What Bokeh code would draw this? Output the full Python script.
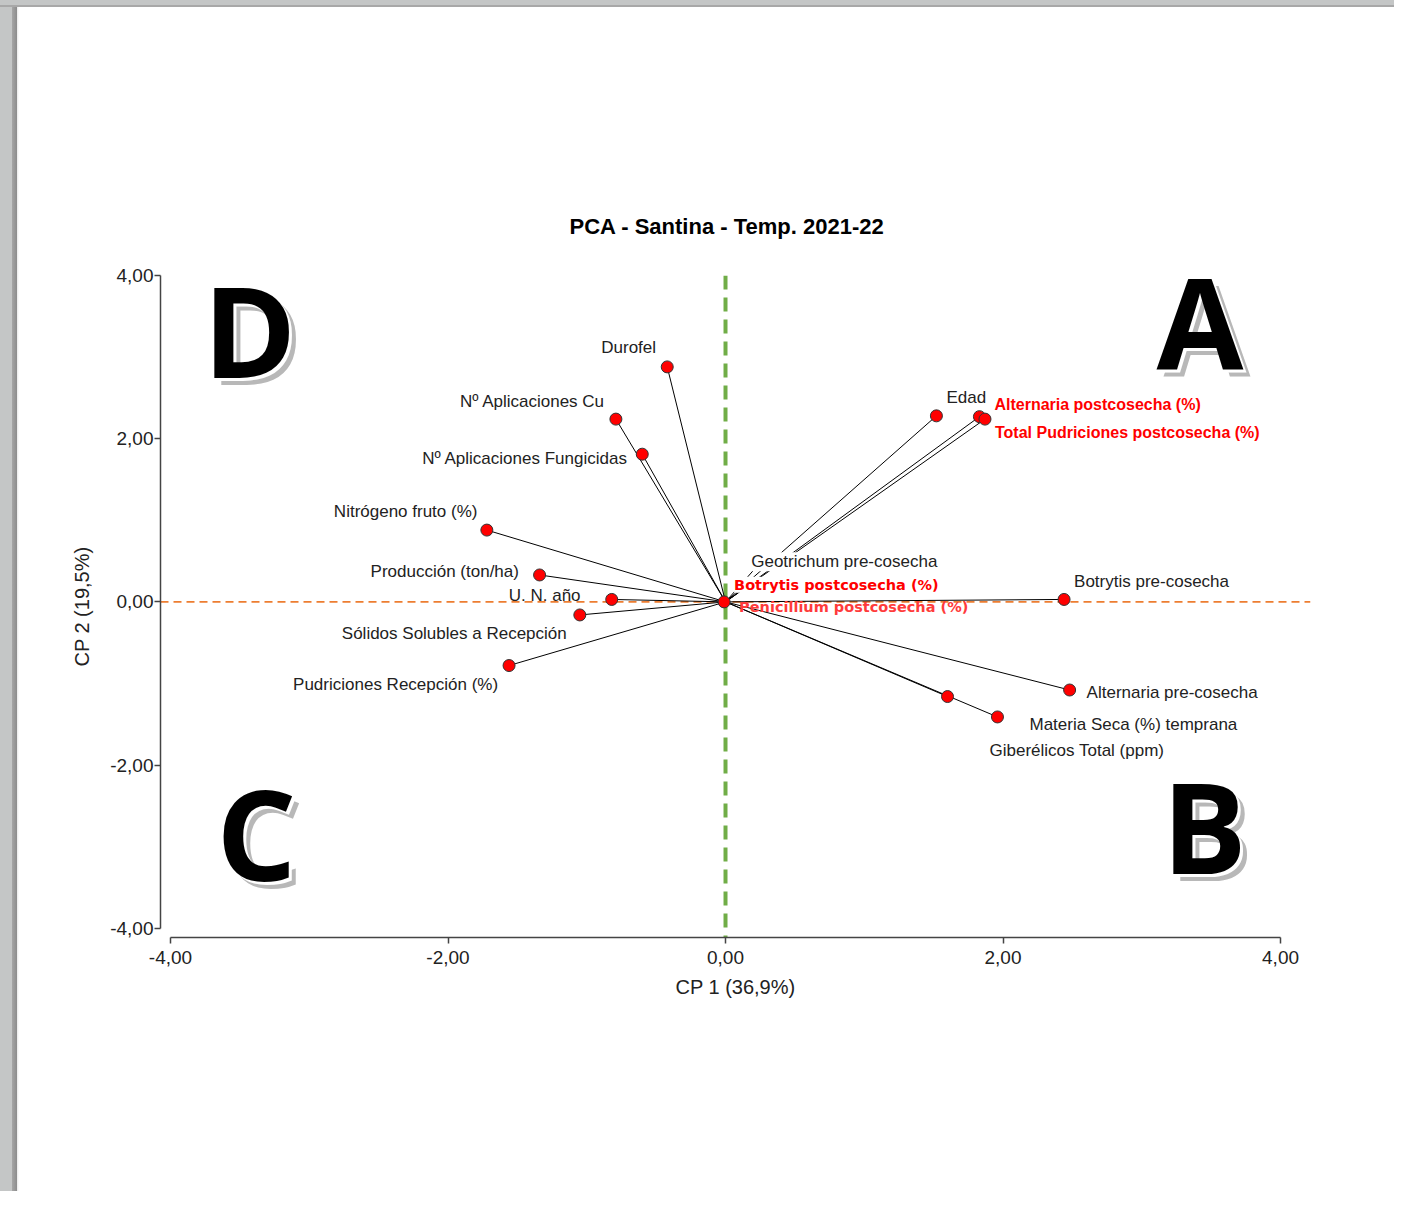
from bokeh.plotting import figure
from bokeh.models import Span, FixedTicker, ColumnDataSource
from bokeh.core.properties import value
from bokeh.embed import file_html
from bokeh.resources import INLINE

# ---------------- data ----------------
variables = [
    "Durofel", "Nº Aplicaciones Cu", "Nº Aplicaciones Fungicidas",
    "Nitrógeno fruto (%)", "Producción (ton/ha)", "U. N. año",
    "Sólidos Solubles a Recepción", "Pudriciones Recepción (%)", "Edad",
    "Alternaria postcosecha (%)", "Total Pudriciones postcosecha (%)",
    "Geotrichum pre-cosecha", "Botrytis postcosecha (%)",
    "Penicillium postcosecha (%)", "Botrytis pre-cosecha",
    "Alternaria pre-cosecha", "Materia Seca (%) temprana",
    "Giberélicos Total (ppm)",
]
cp1 = [-0.42, -0.79, -0.60, -1.72, -1.34, -0.82, -1.05, -1.56, 1.52,
       1.83, 1.87, 0.25, 0.17, -0.01, 2.44, 2.48, 1.96, 1.60]
cp2 = [2.88, 2.24, 1.81, 0.88, 0.33, 0.03, -0.16, -0.78, 2.28,
       2.27, 2.24, 0.48, 0.21, 0.00, 0.03, -1.08, -1.41, -1.16]

ticks = [-4, -2, 0, 2, 4]
tick_labels = {t: f"{t:.2f}".replace(".", ",") for t in ticks}

title = "PCA - Santina - Temp. 2021-22"
x_label = "CP 1 (36,9%)"
y_label = "CP 2 (19,5%)"

quad_letters = ["A", "B", "C", "D"]

# ---------------- label styling (screen offsets, px; group) ----------------
label_style = {
    "Durofel": (-66, -19, "n"),
    "Nº Aplicaciones Cu": (-156, -18, "n"),
    "Nº Aplicaciones Fungicidas": (-220, 4, "n"),
    "Nitrógeno fruto (%)": (-153, -19, "n"),
    "Producción (ton/ha)": (-169, -3, "n"),
    "U. N. año": (-103, -4, "n"),
    "Sólidos Solubles a Recepción": (-238, 19, "n"),
    "Pudriciones Recepción (%)": (-216, 19, "n"),
    "Edad": (10, -18, "n"),
    "Alternaria postcosecha (%)": (15, -12, "r"),
    "Total Pudriciones postcosecha (%)": (10, 13, "r"),
    "Geotrichum pre-cosecha": (-9, -1, "nb"),
    "Botrytis postcosecha (%)": (-15, 0, "rb"),
    "Penicillium postcosecha (%)": (15, 5, "rp"),
    "Botrytis pre-cosecha": (10, -18, "n"),
    "Alternaria pre-cosecha": (17, 2, "n"),
    "Materia Seca (%) temprana": (32, 8, "n"),
    "Giberélicos Total (ppm)": (42, 54, "n"),
}
quad_pos = {"A": (3.42, 3.46), "B": (3.45, -2.73), "C": (-3.38, -2.82), "D": (-3.43, 3.34)}

# ---------------- figure ----------------
W, H = 1394, 1191
p = figure(width=W, height=H, output_backend="svg", toolbar_location=None,
           x_range=(-4.072, 4.216), y_range=(-4.113, 4.0),
           min_border_left=160, min_border_right=84,
           min_border_top=275, min_border_bottom=254,
           background_fill_color="white", border_fill_color=None,
           outline_line_color=None, title=title)
p.styles = {
    "background": ("linear-gradient(to bottom, #c4c6c6 0px, #c4c6c6 5px, #a8a8a8 5px, #a8a8a8 7px, rgba(255,255,255,0) 7px), "
                   "linear-gradient(to right, #c4c6c6 0px, #c4c6c6 12px, #a6a6a6 12px, #8c8c8c 17px, #e8e8e8 17px, #ffffff 19px, #ffffff 100%)"),
}
p.grid.visible = False

p.title.align = "left"
p.title.offset = 409
p.title.text_font = "Liberation Sans"
p.title.text_font_size = "22px"
p.title.text_font_style = "bold"
p.title.text_color = "black"
p.title.standoff = 73

for ax, lab in ((p.xaxis[0], x_label), (p.yaxis[0], y_label)):
    ax.ticker = FixedTicker(ticks=ticks)
    ax.major_label_overrides = tick_labels
    ax.bounds = (-4, 4)
    ax.axis_label = lab
    ax.axis_label_text_font = "Liberation Sans"
    ax.axis_label_text_font_size = "20px"
    ax.axis_label_text_font_style = "normal"
    ax.axis_label_text_color = "#222222"
    ax.major_label_text_font = "Liberation Sans"
    ax.major_label_text_font_size = "19px"
    ax.major_label_text_color = "#222222"
    ax.minor_tick_line_color = None
    ax.major_tick_in = 0
    ax.major_tick_out = 6
    ax.axis_line_color = "#444444"
    ax.axis_line_width = 1.5
    ax.major_tick_line_color = "#444444"
    ax.major_tick_line_width = 1.5
p.xaxis.major_label_standoff = 7
p.xaxis.axis_label_standoff = 9
p.yaxis.major_label_standoff = 1
p.yaxis.axis_label_standoff = 14

# reference lines
p.add_layout(Span(location=0, dimension="width", line_color="#ed7d31",
                  line_width=1.8, line_dash="8 5", level="underlay"))
p.add_layout(Span(location=0, dimension="height", line_color="#70ad47",
                  line_width=4, line_dash="14 8", level="underlay"))

# vectors and points
src = ColumnDataSource(dict(
    name=variables, x=cp1, y=cp2, x0=[0.0] * len(cp1), y0=[0.0] * len(cp2),
))
p.segment(x0="x0", y0="y0", x1="x", y1="y", source=src, line_color="black", line_width=1)
p.scatter(x="x", y="y", source=src, size=12, fill_color="#ff0000",
          line_color="#333333", line_width=1)


def sub(group):
    idx = [i for i, v in enumerate(variables) if label_style[v][2] == group]
    return ColumnDataSource(dict(
        name=[variables[i] for i in idx], x=[cp1[i] for i in idx], y=[cp2[i] for i in idx],
        dx=[label_style[variables[i]][0] for i in idx],
        dy=[label_style[variables[i]][1] for i in idx],
    ))


common = dict(x="x", y="y", text="name", x_offset="dx", y_offset="dy",
              text_align="left", text_baseline="middle")
p.text(source=sub("n"), text_font=value("Liberation Sans"), text_font_size="17px",
       text_color="#222222", **common)
p.text(source=sub("nb"), text_font=value("Liberation Sans"), text_font_size="17px",
       text_color="#222222", background_fill_color="white", **common)
p.text(source=sub("r"), text_font=value("Liberation Sans"), text_font_size="16px",
       text_font_style="bold", text_color="#ff0000", **common)
p.text(source=sub("rb"), text_font=value("DejaVu Sans"), text_font_size="14.5px",
       text_font_style="bold", text_color="#ff0000", background_fill_color="white", **common)
p.text(source=sub("rp"), text_font=value("DejaVu Sans"), text_font_size="14.5px",
       text_font_style="bold", text_color="#ff3b3b", **common)

# quadrant letters (shadow, halo, letter)
qsrc = ColumnDataSource(dict(t=quad_letters, x=[quad_pos[q][0] for q in quad_letters],
                             y=[quad_pos[q][1] for q in quad_letters]))
for off, col in ((7, "#b8b8b8"), (3, "white"), (0, "black")):
    p.text(x="x", y="y", text="t", source=qsrc, x_offset=off, y_offset=off,
           text_font=value("Open Sans"), text_font_style="bold", text_font_size="126px",
           text_color=col, text_align="center", text_baseline="middle")

open("out.html", "w").write(file_html(p, INLINE))
